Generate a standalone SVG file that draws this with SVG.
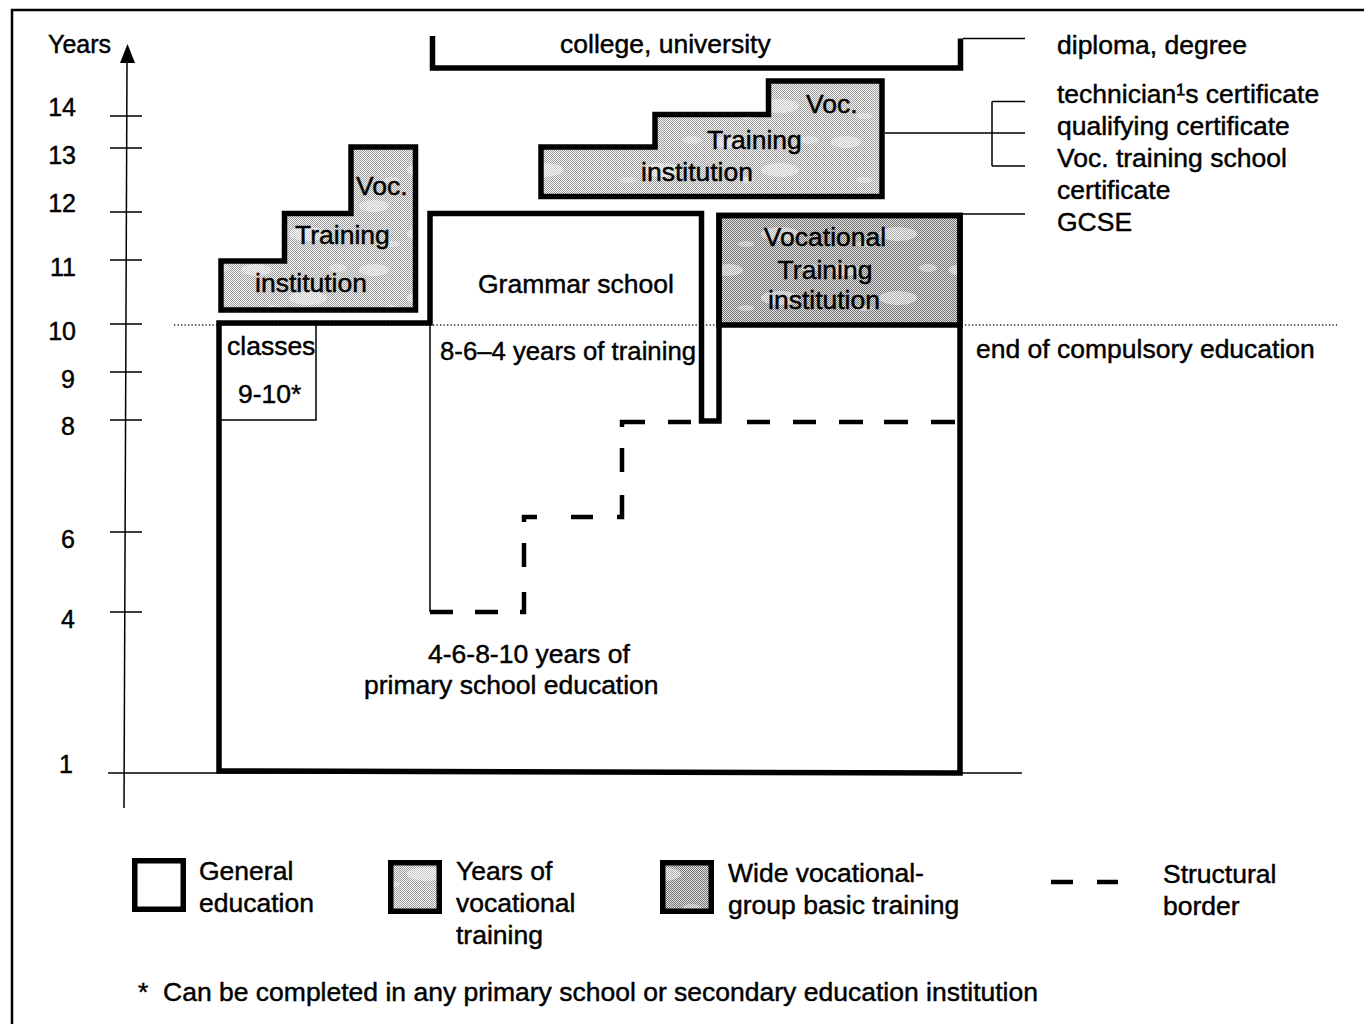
<svg xmlns="http://www.w3.org/2000/svg" width="1364" height="1024" viewBox="0 0 1364 1024">
<style>
text { font-family: "Liberation Sans", Arial, sans-serif; fill: #000; stroke: #000; stroke-width: 0.45; }
.t { font-size: 26.5px; }
.ax { font-size: 25px; }
.thick { fill: none; stroke: #000; stroke-width: 5.5; stroke-linejoin: miter; }
.thin { fill: none; stroke: #000; stroke-width: 1.5; }
.dash { fill: none; stroke: #000; stroke-width: 4.5; stroke-linecap: butt; }
</style>
<defs>
<pattern id="ditherL" width="2" height="2" patternUnits="userSpaceOnUse">
<rect width="2" height="2" fill="#f6f6f6"/>
<rect x="0" y="0" width="1" height="1" fill="#9c9c9c"/>
<rect x="1" y="1" width="1" height="1" fill="#9c9c9c"/>
</pattern>
<pattern id="ditherD" width="2" height="2" patternUnits="userSpaceOnUse">
<rect width="2" height="2" fill="#e2e2e2"/>
<rect x="0" y="0" width="1" height="1" fill="#727272"/>
<rect x="1" y="1" width="1" height="1" fill="#727272"/>
</pattern>
<pattern id="blot" width="118" height="64" patternUnits="userSpaceOnUse">
<ellipse cx="20" cy="14" rx="15" ry="6" fill="#fff" opacity="0.45"/>
<ellipse cx="72" cy="42" rx="19" ry="7" fill="#fff" opacity="0.45"/>
<ellipse cx="102" cy="12" rx="9" ry="4" fill="#fff" opacity="0.4"/>
<ellipse cx="38" cy="52" rx="8" ry="3" fill="#fff" opacity="0.4"/>
</pattern>
</defs>

<rect width="1364" height="1024" fill="#fff"/>
<path d="M12 1024 V10 H1364" fill="none" stroke="#000" stroke-width="2.5"/>

<g id="axis">
<line x1="127" y1="62" x2="124" y2="808" class="thin"/>
<polygon points="127.5,44 120,63 135,63" fill="#000"/>
<path class="thin" d="M110 116 H142 M110 148 H142 M110 212 H142 M110 260 H142 M110 324 H142 M110 372 H142 M110 420 H142 M110 532 H142 M110 612 H142"/>
<text class="ax" x="48" y="53">Years</text>
<g text-anchor="end">
<text class="ax" x="76" y="116">14</text>
<text class="ax" x="76" y="164">13</text>
<text class="ax" x="76" y="212">12</text>
<text class="ax" x="76" y="276">11</text>
<text class="ax" x="76" y="340">10</text>
<text class="ax" x="75" y="388">9</text>
<text class="ax" x="75" y="435">8</text>
<text class="ax" x="75" y="548">6</text>
<text class="ax" x="75" y="628">4</text>
<text class="ax" x="73" y="773">1</text>
</g>
</g>

<g id="compulsory-line">
<line x1="174" y1="325" x2="1337" y2="325" stroke="#222" stroke-width="1.3" stroke-dasharray="1.3 2.2"/>
<text class="t" x="976" y="358">end of compulsory education</text>
</g>

<g id="connectors">
<path class="thin" d="M108 773 H1022"/>
<path class="thin" d="M963 38.5 H1025"/>
<path class="thin" d="M885 133 H1025"/>
<path class="thin" d="M992 101.5 V166 M992 101.5 H1025 M992 166 H1025"/>
<path class="thin" d="M963 214 H1025"/>
</g>

<g id="college-university">
<path class="thick" d="M432.5 36 V68 H960.5 V38.5"/>
<text class="t" x="560" y="53">college, university</text>
</g>

<g id="voc-training-left">
<path d="M221 310 V261 H284.5 V213.5 H351 V147 H415.5 V310 Z" fill="url(#ditherL)"/>
<path d="M221 310 V261 H284.5 V213.5 H351 V147 H415.5 V310 Z" fill="url(#blot)"/>
<path class="thick" d="M221 310 V261 H284.5 V213.5 H351 V147 H415.5 V310 Z"/>
<text class="t" x="356" y="195">Voc.</text>
<text class="t" x="295" y="244">Training</text>
<text class="t" x="255" y="292">institution</text>
</g>

<g id="voc-training-top">
<path d="M541 196.5 V147 H655 V114.5 H768.5 V81 H882 V196.5 Z" fill="url(#ditherL)"/>
<path d="M541 196.5 V147 H655 V114.5 H768.5 V81 H882 V196.5 Z" fill="url(#blot)"/>
<path class="thick" d="M541 196.5 V147 H655 V114.5 H768.5 V81 H882 V196.5 Z"/>
<text class="t" x="806" y="113">Voc.</text>
<text class="t" x="707" y="149">Training</text>
<text class="t" x="641" y="181">institution</text>
</g>

<g id="vocational-training-institution">
<rect x="719" y="215.5" width="241" height="109.5" fill="url(#ditherD)"/>
<rect x="719" y="215.5" width="241" height="109.5" fill="url(#blot)"/>
<rect x="719" y="215.5" width="241" height="109.5" class="thick"/>
<g text-anchor="middle">
<text class="t" x="825" y="246">Vocational</text>
<text class="t" x="825" y="279">Training</text>
<text class="t" x="824" y="309">institution</text>
</g>
</g>

<g id="general-education">
<path class="thick" d="M219 771 V323 H430 V213.5 H701.5 V421 H719 V215.5 H960 V773 Z"/>
<text class="t" x="364" y="694">primary school education</text>
<text class="t" x="428" y="663">4-6-8-10 years of</text>
</g>

<g id="grammar-school">
<path class="thin" d="M430 323 V612"/>
<text class="t" x="478" y="293">Grammar school</text>
<text class="t" x="440" y="360" textLength="256" lengthAdjust="spacingAndGlyphs">8-6–4 years of training</text>
</g>

<g id="classes">
<path class="thin" d="M219 420 H316 V324"/>
<text class="t" x="227" y="355">classes</text>
<text class="t" x="238" y="403">9-10*</text>
</g>

<g id="structural-border">
<path class="dash" d="M430 612 H453 M475 612 H498 M520 612 H524 V592 M524 567 V543 M524 522 V517 H537 M571 517 H593 M617 517 H622 V495 M622 472 V448 M622 427 V422 H645 M668 422 H691 M747 422 H770 M793 422 H816 M839 422 H863 M884 422 H908 M931 422 H955"/>
</g>

<g id="qualifications">
<text class="t" x="1057" y="54">diploma, degree</text>
<text class="t" x="1057" y="103">technician¹s certificate</text>
<text class="t" x="1057" y="135">qualifying certificate</text>
<text class="t" x="1057" y="167">Voc. training school</text>
<text class="t" x="1057" y="199">certificate</text>
<text class="t" x="1057" y="231">GCSE</text>
</g>

<g id="legend-general">
<rect x="134.75" y="860.75" width="48.5" height="48.5" fill="#fff" class="thick"/>
<text class="t" x="199" y="880">General</text>
<text class="t" x="199" y="912">education</text>
</g>
<g id="legend-years">
<rect x="390.75" y="862.75" width="48.5" height="48.5" fill="url(#ditherL)"/>
<rect x="390.75" y="862.75" width="48.5" height="48.5" fill="url(#blot)"/>
<rect x="390.75" y="862.75" width="48.5" height="48.5" class="thick"/>
<text class="t" x="456" y="880">Years of</text>
<text class="t" x="456" y="912">vocational</text>
<text class="t" x="456" y="944">training</text>
</g>
<g id="legend-wide">
<rect x="662.75" y="862.75" width="48.5" height="48.5" fill="url(#ditherD)"/>
<rect x="662.75" y="862.75" width="48.5" height="48.5" fill="url(#blot)"/>
<rect x="662.75" y="862.75" width="48.5" height="48.5" class="thick"/>
<text class="t" x="728" y="882">Wide vocational-</text>
<text class="t" x="728" y="914">group basic training</text>
</g>
<g id="legend-structural">
<path class="dash" d="M1051 882 H1073 M1097 882 H1118"/>
<text class="t" x="1163" y="883">Structural</text>
<text class="t" x="1163" y="915">border</text>
</g>
<g id="footnote">
<text class="t" x="138" y="1001">*<tspan x="163">Can be completed in any primary school or secondary education institution</tspan></text>
</g>
</svg>
